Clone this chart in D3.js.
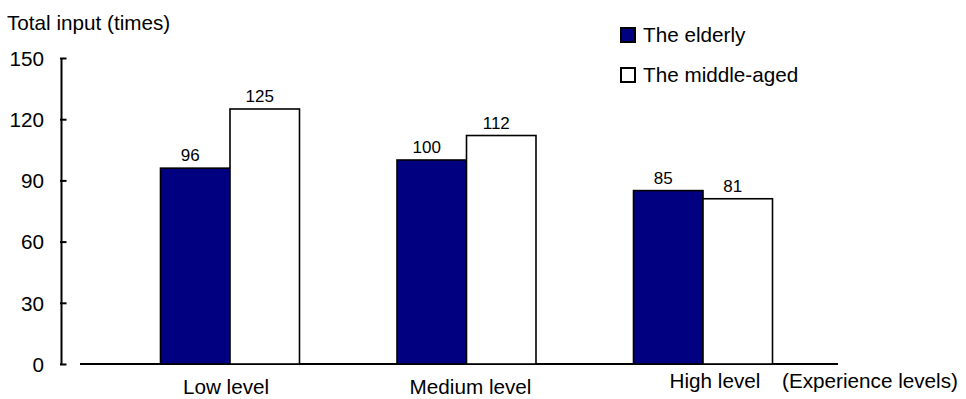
<!DOCTYPE html>
<html>
<head>
<meta charset="utf-8">
<script src="https://cdn.jsdelivr.net/npm/d3@7"></script>
<style>
  html, body { margin: 0; padding: 0; background: #fff; }
  svg { display: block; }
  text { font-family: "Liberation Sans", Arial, sans-serif; fill: #000; }
</style>
</head>
<body>
<svg id="chart" width="966" height="399"></svg>
<script>
// ---- data ----
const categories = ["Low level", "Medium level", "High level"];
const seriesNames = ["The elderly", "The middle-aged"];
const elderly = [96, 100, 85];
const middleAged = [125, 112, 81];
const yTicks = [0, 30, 60, 90, 120, 150];
const yTitle = "Total input (times)";
const xTitle = "(Experience levels)";

const seriesValues = [elderly, middleAged];
const seriesFill = ["#000080", "#ffffff"];

const svg = d3.select("#chart");
const FONT = 20.7;

// ---- scales ----
const y = d3.scaleLinear().domain([0, 150]).range([364, 58]);
const x0 = d3.scaleBand().domain(categories)
  .range([113.2, 819.8]).paddingInner(0.4123).paddingOuter(0.2);
const x1 = d3.scaleBand().domain(seriesNames).range([0, x0.bandwidth()]).padding(0);
const xLabel = d3.scalePoint().domain(categories).range([226, 715]);

// ---- y axis ----
const yAxis = d3.axisLeft(y).tickValues(yTicks).tickSize(-5.5).tickPadding(0).tickSizeOuter(0);
const gy = svg.append("g").attr("transform", "translate(61,0)").call(yAxis);
gy.select(".domain").attr("stroke", "#000").attr("stroke-width", 2);
gy.selectAll(".tick line").attr("stroke", "#000").attr("stroke-width", 2).attr("x1", -1);
gy.selectAll(".tick text")
  .attr("x", -17)
  .attr("dy", "0.35em")
  .style("font-size", FONT + "px")
  .style("font-family", '"Liberation Sans", Arial, sans-serif')
  .attr("fill", "#000");

// y title
svg.append("text").attr("x", 7).attr("y", 29.5)
  .style("font-size", FONT + "px").text(yTitle);

// ---- x baseline ----
svg.append("line")
  .attr("x1", 80).attr("x2", 838)
  .attr("y1", y(0)).attr("y2", y(0))
  .attr("stroke", "#000").attr("stroke-width", 2);

// ---- bars ----
const rows = categories.map((c, i) => ({
  cat: c,
  vals: seriesNames.map((s, j) => ({ s, j, v: seriesValues[j][i] }))
}));

const groups = svg.append("g").selectAll("g").data(rows).join("g")
  .attr("transform", d => `translate(${x0(d.cat)},0)`);

groups.selectAll("rect").data(d => d.vals).join("rect")
  .attr("x", d => x1(d.s))
  .attr("width", x1.bandwidth())
  .attr("y", d => y(d.v))
  .attr("height", d => y(0) - y(d.v))
  .attr("fill", d => seriesFill[d.j])
  .attr("stroke", "#000")
  .attr("stroke-width", 1.6);

groups.selectAll("text.val").data(d => d.vals).join("text")
  .attr("class", "val")
  .attr("x", d => x1(d.s) + x1.bandwidth() / 2 - 5)
  .attr("y", d => y(d.v) - 7)
  .attr("text-anchor", "middle")
  .style("font-size", "17px")
  .text(d => d.v);

// ---- category labels ----
svg.append("g").selectAll("text").data(categories).join("text")
  .attr("x", d => xLabel(d))
  .attr("y", (d, i) => i === categories.length - 1 ? 388 : 394)
  .attr("text-anchor", "middle")
  .style("font-size", FONT + "px")
  .text(d => d);

svg.append("text").attr("x", 782).attr("y", 388)
  .style("font-size", FONT + "px").text(xTitle);

// ---- legend ----
const legend = svg.append("g").selectAll("g").data(seriesNames).join("g")
  .attr("transform", (d, i) => `translate(620,${27 + i * 40})`);
legend.append("rect")
  .attr("x", 1).attr("y", 1).attr("width", 14).attr("height", 14)
  .attr("fill", (d, i) => seriesFill[i])
  .attr("stroke", "#000").attr("stroke-width", 2);
legend.append("text")
  .attr("x", 23).attr("y", 14.7)
  .style("font-size", FONT + "px")
  .text(d => d);
</script>
</body>
</html>
